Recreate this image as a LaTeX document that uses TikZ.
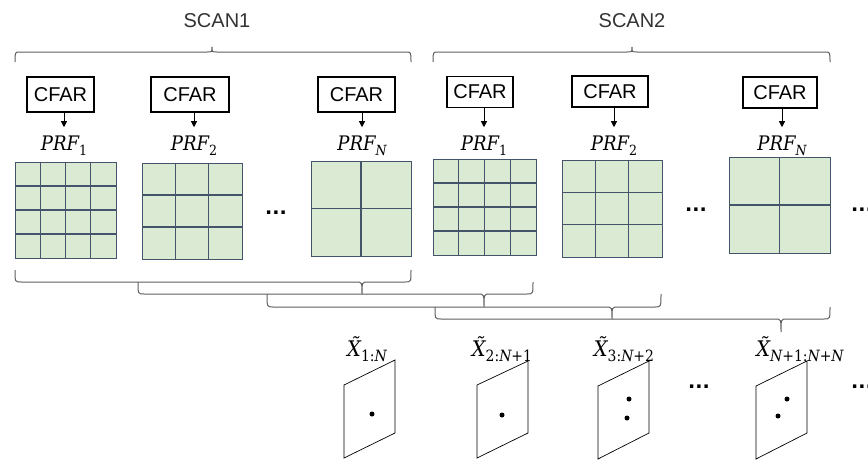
\documentclass[tikz,border=0pt]{standalone}
\usepackage{fontspec}
\newfontfamily\labelfont{Liberation Sans}
\newfontfamily\dotsfont{DejaVu Sans}
\newfontfamily\mfont{DejaVu Serif Condensed}
\usetikzlibrary{arrows.meta}
\definecolor{gridfillc}{HTML}{DAEAD3}
\definecolor{gridedgec}{HTML}{44546A}
\definecolor{bracec}{HTML}{5E5E5E}
\definecolor{scanc}{HTML}{333333}
\tikzset{
  cfarbox/.style={draw=black, line width=1.3pt, inner sep=0pt,
    font=\labelfont\fontsize{20}{24}\selectfont},
  scanlabel/.style={inner sep=0pt, text=scanc, font=\labelfont\fontsize{20}{24}\selectfont},
  prflabel/.style={anchor=base, inner sep=0pt, font=\mfont\fontsize{20}{24}\selectfont},
  xlabel/.style={anchor=base, inner sep=0pt, font=\mfont\fontsize{21.5}{25}\selectfont},
  arr/.style={-{Triangle[length=6pt,width=6pt]}, line width=0.8pt, shorten >=8pt},
  gridbox/.style={draw=gridedgec, fill=gridfillc, line width=1.2pt, inner sep=0pt, anchor=north west},
  gridln/.style={draw=gridedgec, line width=1.1pt},
  bracestyle/.style={draw=bracec, line width=1pt},
  ellip/.style={anchor=base, inner sep=0pt, font=\dotsfont\bfseries\fontsize{19}{22}\selectfont},
  frame/.style={draw=black, line width=0.7pt},
}
\newcommand\lowsub[1]{\raisebox{-5pt}{\fontsize{14}{16}\selectfont #1}}
\newcommand\xsub[1]{\raisebox{-5pt}{\fontsize{15.5}{18}\selectfont #1}}
\newcommand\prft[1]{{\itshape PRF}\lowsub{#1}}
\newcommand\xt[1]{{\itshape X^^^^0303}\xsub{#1}}
% r, x1, x2, xt, yend, yline, ytip
\newcommand\hbrace[7]{%
  \draw[bracestyle] (#2,#5) .. controls (#2,#6) and (#2,#6) .. (#2+#1,#6)
    -- (#4-#1,#6) .. controls (#4,#6) and (#4,#6) .. (#4,#7)
    .. controls (#4,#6) and (#4,#6) .. (#4+#1,#6)
    -- (#3-#1,#6) .. controls (#3,#6) and (#3,#6) .. (#3,#5);}
% name, x1, y1, x2, y2, n
\newcommand\prfgrid[6]{%
  \node[gridbox, minimum width={(#4-#2)*1pt}, minimum height={(#5-#3)*1pt}] (#1) at (#2,#3) {};
  \pgfmathtruncatemacro\gnm{#6-1}%
  \foreach \k in {1,...,\gnm}{%
    \draw[gridln] ({#2+\k*(#4-#2)/#6},#3) -- ({#2+\k*(#4-#2)/#6},#5);
    \draw[gridln] (#2,{#3+\k*(#5-#3)/#6}) -- (#4,{#3+\k*(#5-#3)/#6});
  }}
\begin{document}
\begin{tikzpicture}[x=1pt,y=-1pt]
\useasboundingbox (0,0) rectangle (868,461);

% scan labels and top braces
\node[scanlabel] (scan1) at (217,21) {SCAN1};
\node[scanlabel] (scan2) at (632,21) {SCAN2};
\hbrace{5}{15}{411}{212}{62}{52}{47}
\hbrace{5}{433}{830}{632}{62}{52}{47}

% CFAR boxes
\node[cfarbox, minimum width=67pt, minimum height=35pt] (c1) at (60.5,94.5) {CFAR};
\node[cfarbox, minimum width=78pt, minimum height=35pt] (c2) at (190,94.5) {CFAR};
\node[cfarbox, minimum width=77pt, minimum height=35pt] (c3) at (356.5,94.5) {CFAR};
\node[cfarbox, minimum width=66pt, minimum height=31pt] (c4) at (480,92) {CFAR};
\node[cfarbox, minimum width=76pt, minimum height=31pt] (c5) at (610,91.5) {CFAR};
\node[cfarbox, minimum width=74pt, minimum height=31pt] (c6) at (780,92.5) {CFAR};

% PRF labels
\node[prflabel] (p1) at (64,150) {\prft{1}};
\node[prflabel] (p2) at (194,150) {\prft{2}};
\node[prflabel] (p3) at (362,150) {\prft{\itshape N}};
\node[prflabel] (p4) at (484,150) {\prft{1}};
\node[prflabel] (p5) at (614,150) {\prft{2}};
\node[prflabel] (p6) at (782,150) {\prft{\itshape N}};

\foreach \i in {1,...,6}{\draw[arr] (p\i.north |- c\i.south) -- (p\i.north);}

% grids
\prfgrid{g1}{15}{162}{116}{258}{4}
\prfgrid{g2}{142}{163}{242}{259}{3}
\prfgrid{g3}{311}{161}{411}{256}{2}
\prfgrid{g4}{433}{159}{536}{255}{4}
\prfgrid{g5}{562}{160}{662}{257}{3}
\prfgrid{g6}{729}{157}{830}{253}{2}

\node[ellip] (d1) at (276,214) {...};
\node[ellip] (d2) at (696,211) {...};
\node[ellip] (d3) at (862,211) {...};

% bottom braces
\hbrace{6}{15}{411}{362}{270}{282}{294}
\hbrace{6}{138}{533}{484}{282}{294}{307}
\hbrace{6}{267}{661}{612}{294}{307}{319}
\hbrace{6}{435}{830}{781}{307}{319}{332}

% window labels
\node[xlabel] (x1) at (367,356) {\xt{1:\itshape N}};
\node[xlabel] (x2) at (502,356) {\xt{2:\itshape N\upshape +1}};
\node[xlabel] (x3) at (624,356) {\xt{3:\itshape N\upshape +2}};
\node[xlabel] (x4) at (800,356) {\xt{\itshape N\upshape +1:\itshape N\upshape +\itshape N}};

% frames
\draw[frame] (344,385) -- (395,360) -- (395,433) -- (344,458) -- cycle;
\fill (372,414) circle (2.5pt);
\draw[frame] (477,385) -- (528,361) -- (528,433) -- (477,458) -- cycle;
\fill (502,415) circle (2.5pt);
\draw[frame] (598,386) -- (649,361) -- (649,433) -- (598,459) -- cycle;
\fill (629,399) circle (2.5pt);
\fill (627,418) circle (2.5pt);
\draw[frame] (756,386) -- (807,361) -- (807,433) -- (756,459) -- cycle;
\fill (787,399) circle (2.5pt);
\fill (778,416) circle (2.5pt);

\node[ellip] (d4) at (699,388) {...};
\node[ellip] (d5) at (862,388) {...};
\end{tikzpicture}
\end{document}
